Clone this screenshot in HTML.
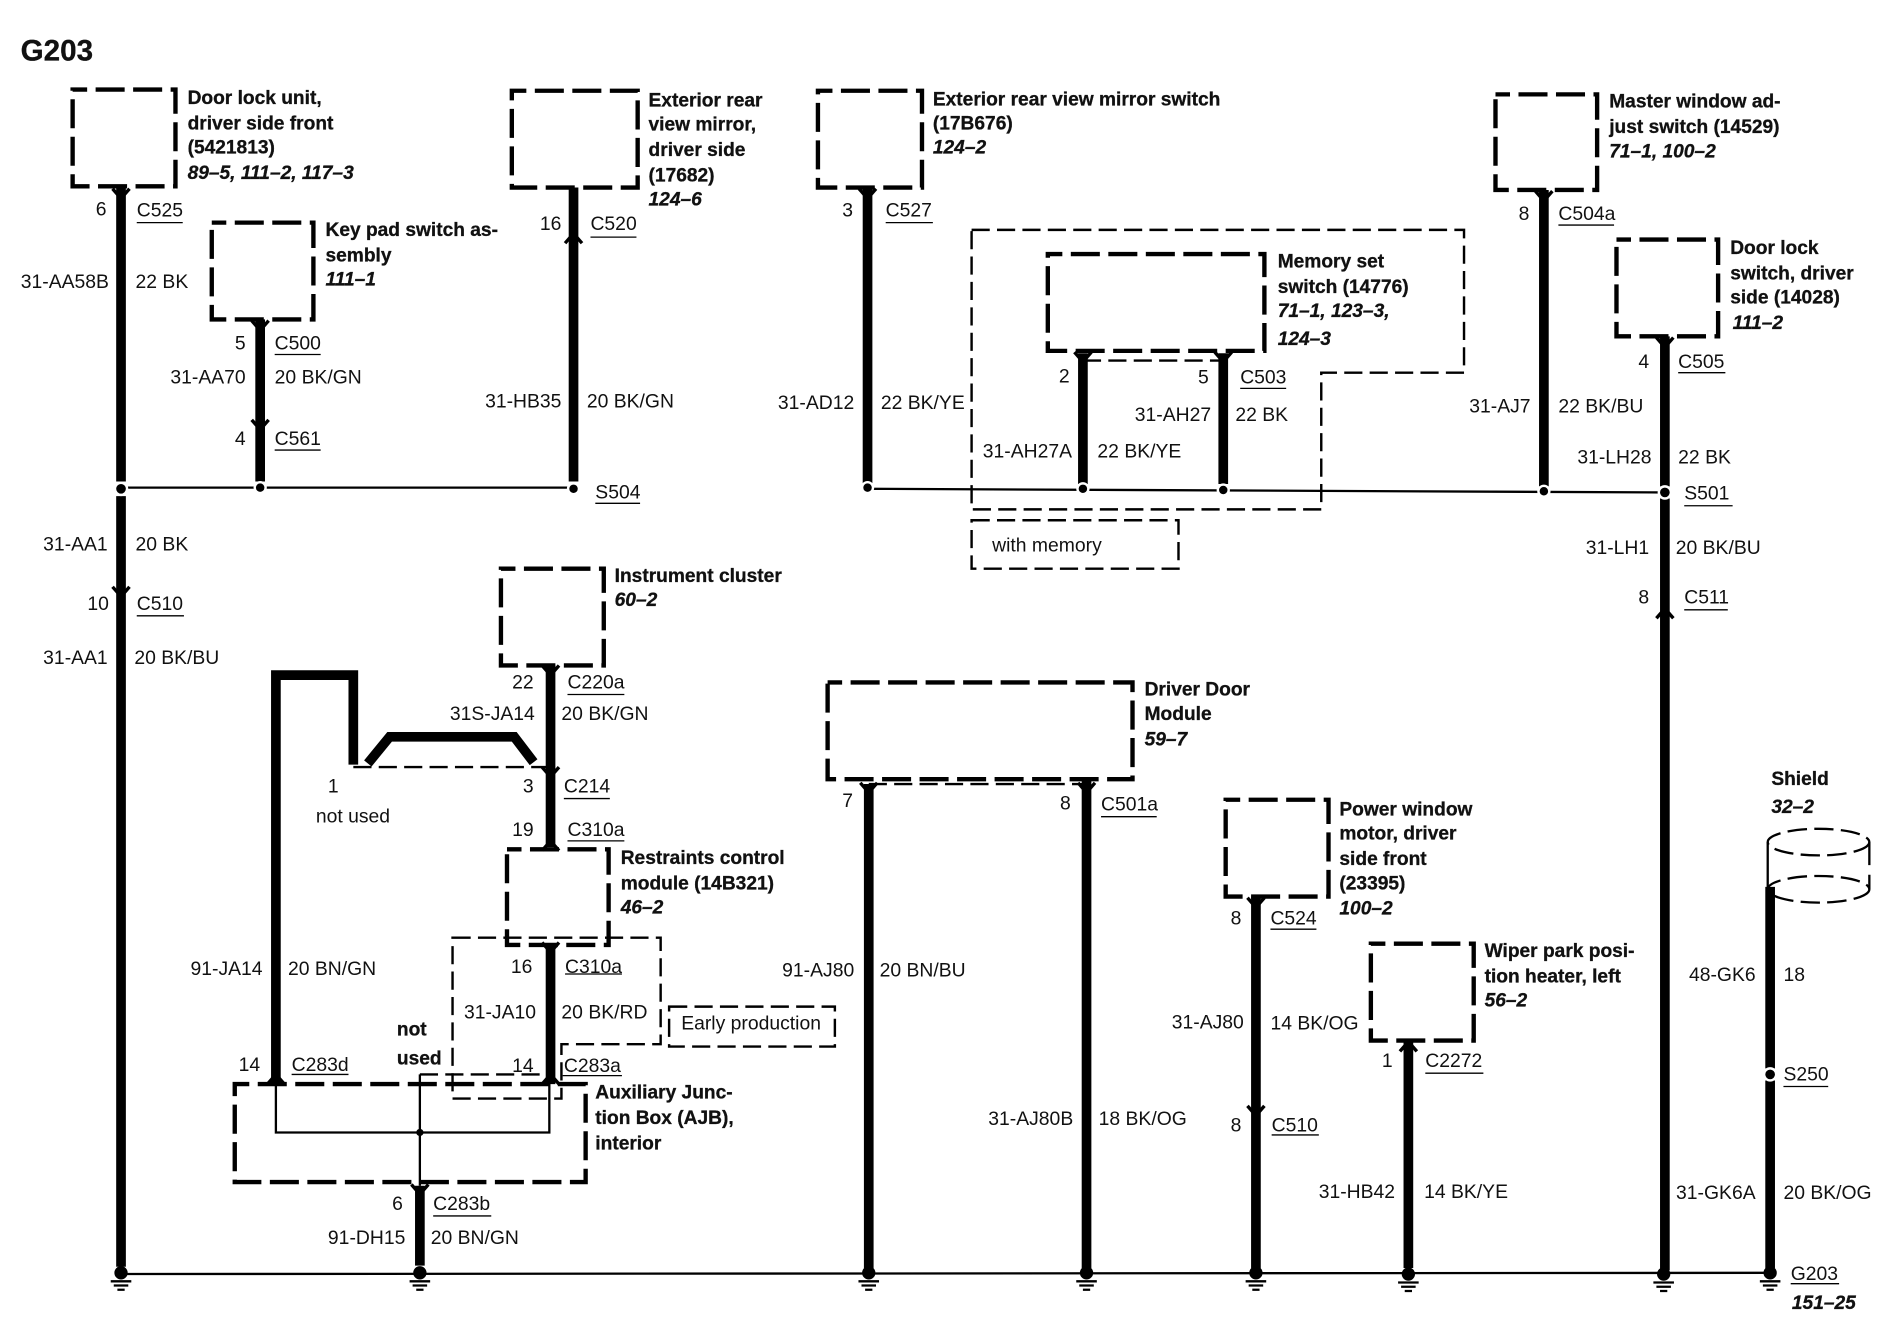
<!DOCTYPE html>
<html><head><meta charset="utf-8"><style>
html,body{margin:0;padding:0;background:#fff}
svg{display:block}
text{font-family:"Liberation Sans",sans-serif;font-size:16px;fill:#111}
.b{font-weight:bold;font-size:15.85px;stroke:#111;stroke-width:.25px}
.i{font-weight:bold;font-style:italic;font-size:15.85px;stroke:#111;stroke-width:.25px}
.e{text-anchor:end}
.box{fill:none;stroke:#000;stroke-width:3.6;stroke-dasharray:24 7;stroke-dashoffset:12}
.thin{fill:none;stroke:#000;stroke-width:2;stroke-dasharray:15 6}
.w{fill:none;stroke:#000;stroke-width:8}
.l{fill:none;stroke:#000;stroke-width:1.9}
.u{fill:none;stroke:#000;stroke-width:1.1}
.a{fill:none;stroke:#000;stroke-width:2.8}
.d{fill:#000;stroke:#fff;stroke-width:2}
</style></head><body>
<svg xmlns="http://www.w3.org/2000/svg" width="1896" height="1328" viewBox="0 0 1567 1097.6">
<defs>
<g id="gnd"><circle cx="0" cy="-1" r="5.5" fill="#000"/><path d="M-8.5 6H8.5M-6 9.5H6M-3 13H3" stroke="#000" stroke-width="1.9" fill="none"/></g>
<path id="dn" class="a" d="M-7 -5L0 3L7 -5"/>
<path id="up" class="a" d="M-7 5L0 -3L7 5"/>
</defs>
<rect width="1567" height="1098" fill="#fff"/>

<!-- thin lines -->
<path class="l" d="M100 403H475M717 404L1376 407"/>
<path class="l" d="M100 1053L1463 1052"/>
<path class="l" d="M228 895V936H454V895M347 888V980"/>
<circle cx="347" cy="936" r="3" fill="#000"/>

<!-- thin dashed regions -->
<path class="thin" d="M803 190H1210V308H1092V421H803Z"/>
<rect class="thin" x="803" y="430" width="171" height="40"/>
<rect class="thin" x="553" y="832" width="137" height="33"/>
<path class="thin" d="M374 775H546V863H464V908H374Z"/>
<path class="thin" d="M292 634H455M347 888H455M718 648H898M895 298H1011"/>

<!-- thick dashed boxes -->
<rect class="box" x="60" y="74" width="85" height="80"/>
<rect class="box" x="423" y="75" width="104" height="80"/>
<rect class="box" x="676" y="75" width="86" height="80"/>
<rect class="box" x="175" y="184" width="84" height="80"/>
<rect class="box" x="866" y="210" width="179" height="80"/>
<rect class="box" x="1236" y="78" width="84" height="79"/>
<rect class="box" x="1336" y="198" width="84" height="80"/>
<rect class="box" x="414" y="470" width="85" height="80"/>
<rect class="box" x="684" y="564" width="252" height="80"/>
<rect class="box" x="419" y="702" width="84" height="79"/>
<rect class="box" x="1013" y="661" width="85" height="80"/>
<rect class="box" x="1133" y="780" width="85" height="80"/>
<rect class="box" x="194" y="896" width="290" height="81"/>

<!-- shield -->
<g fill="none" stroke="#000" stroke-width="1.9" stroke-dasharray="16 6">
<ellipse cx="1503" cy="696" rx="42" ry="11"/>
<ellipse cx="1503" cy="735" rx="42" ry="11"/>
</g>
<path class="l" d="M1461 696V735M1545 696V715M1545 723V735"/>

<!-- thick wires -->
<path class="w" d="M100 155V398M100 410V1047"/>
<path class="w" d="M215 264V398"/>
<path class="w" d="M474 155V398"/>
<path class="w" d="M717 155V400"/>
<path class="w" d="M895 292V400M1011 292V400"/>
<path class="w" d="M1276 157V402"/>
<path class="w" d="M1376 278V402M1376 412V1050"/>
<path class="w" d="M455 550V700M455 782V896"/>
<path class="w" d="M228 895V558H292V632"/>
<path class="w" d="M304 631L322 609H425L441 630"/>
<path class="w" d="M718 648V1048M898 644V1048M1038 741V1048M1164 860V1048"/>
<path class="w" d="M1463 733V883M1463 893V1048"/>
<path class="w" d="M347 980V1046"/>

<!-- dots -->
<circle class="d" cx="100" cy="404" r="5"/><circle class="d" cx="215" cy="403" r="4.5"/><circle class="d" cx="474" cy="404" r="4.5"/>
<circle class="d" cx="717" cy="403" r="4.5"/><circle class="d" cx="895" cy="404" r="4.5"/><circle class="d" cx="1011" cy="405" r="4.5"/>
<circle class="d" cx="1276" cy="406" r="4.5"/><circle class="d" cx="1376" cy="407" r="5"/><circle class="d" cx="1463" cy="888" r="5"/>

<!-- grounds -->
<use href="#gnd" x="100" y="1053"/><use href="#gnd" x="347" y="1053"/><use href="#gnd" x="718" y="1053"/>
<use href="#gnd" x="898" y="1053"/><use href="#gnd" x="1038" y="1053"/><use href="#gnd" x="1164" y="1054"/>
<use href="#gnd" x="1375" y="1054"/><use href="#gnd" x="1463" y="1053"/>

<!-- arrows -->
<use href="#dn" x="100" y="161"/><use href="#dn" x="100" y="490"/><use href="#dn" x="215" y="270"/><use href="#dn" x="215" y="352"/>
<use href="#dn" x="717" y="161"/><use href="#dn" x="895" y="296"/><use href="#dn" x="1011" y="296"/><use href="#dn" x="1276" y="163"/>
<use href="#dn" x="1376" y="284"/><use href="#dn" x="455" y="555"/><use href="#dn" x="455" y="639"/><use href="#dn" x="718" y="652"/>
<use href="#dn" x="898" y="652"/><use href="#dn" x="1038" y="747"/><use href="#dn" x="1038" y="919"/><use href="#dn" x="347" y="984"/>
<use href="#dn" x="455" y="784"/>
<use href="#up" x="474" y="196"/><use href="#up" x="1376" y="506"/><use href="#up" x="1164" y="864"/><use href="#up" x="228" y="891"/>
<use href="#up" x="455" y="891"/><use href="#up" x="455" y="698"/>

<!-- connector underlines -->
<path class="u" d="M113 184H151M227 293H265M227 372H265M488 196H526M732 184H771M1288 186H1334M1387 308H1426M1025 321H1063M492 416H529M1392 418H1432M1392 504H1428M113 509H152M469 574H516M466 660H504M469 695H516M467 805H514M241 888H288M465 889H514M358 1005H406M910 675H956M1050 768H1088M1051 938H1090M1178 887H1226M1474 898H1511M1480 1061H1520"/>

<!-- title -->
<text x="17" y="50" style="font-size:24.5px" class="b">G203</text>

<!-- component labels -->
<text class="b" x="155" y="86">Door lock unit,</text><text class="b" x="155" y="107">driver side front</text><text class="b" x="155" y="127">(5421813)</text><text class="i" x="155" y="148">89–5, 111–2, 117–3</text>
<text class="b" x="536" y="88">Exterior rear</text><text class="b" x="536" y="108">view mirror,</text><text class="b" x="536" y="129">driver side</text><text class="b" x="536" y="150">(17682)</text><text class="i" x="536" y="170">124–6</text>
<text class="b" x="771" y="87">Exterior rear view mirror switch</text><text class="b" x="771" y="107">(17B676)</text><text class="i" x="771" y="127">124–2</text>
<text class="b" x="269" y="195">Key pad switch as-</text><text class="b" x="269" y="216">sembly</text><text class="i" x="269" y="236">111–1</text>
<text class="b" x="1056" y="221">Memory set</text><text class="b" x="1056" y="242">switch (14776)</text><text class="i" x="1056" y="262">71–1, 123–3,</text><text class="i" x="1056" y="285">124–3</text>
<text class="b" x="1330" y="89">Master window ad-</text><text class="b" x="1330" y="110">just switch (14529)</text><text class="i" x="1330" y="130">71–1, 100–2</text>
<text class="b" x="1430" y="210">Door lock</text><text class="b" x="1430" y="231">switch, driver</text><text class="b" x="1430" y="251">side (14028)</text><text class="i" x="1432" y="272">111–2</text>
<text class="b" x="508" y="481">Instrument cluster</text><text class="i" x="508" y="501">60–2</text>
<text class="b" x="946" y="575">Driver Door</text><text class="b" x="946" y="595">Module</text><text class="i" x="946" y="616">59–7</text>
<text class="b" x="513" y="714">Restraints control</text><text class="b" x="513" y="735">module (14B321)</text><text class="i" x="513" y="755">46–2</text>
<text class="b" x="1107" y="674">Power window</text><text class="b" x="1107" y="694">motor, driver</text><text class="b" x="1107" y="715">side front</text><text class="b" x="1107" y="735">(23395)</text><text class="i" x="1107" y="756">100–2</text>
<text class="b" x="1227" y="791">Wiper park posi-</text><text class="b" x="1227" y="812">tion heater, left</text><text class="i" x="1227" y="832">56–2</text>
<text class="b" x="492" y="908">Auxiliary Junc-</text><text class="b" x="492" y="929">tion Box (AJB),</text><text class="b" x="492" y="950">interior</text>
<text class="b" x="1464" y="649">Shield</text><text class="i" x="1464" y="672">32–2</text>
<text class="b" x="328" y="856">not</text><text class="b" x="328" y="880">used</text>

<!-- wire labels -->
<text class="e" x="88" y="178">6</text><text x="113" y="179">C525</text>
<text class="e" x="90" y="238">31-AA58B</text><text x="112" y="238">22 BK</text>
<text class="e" x="203" y="289">5</text><text x="227" y="289">C500</text>
<text class="e" x="203" y="317">31-AA70</text><text x="227" y="317">20 BK/GN</text>
<text class="e" x="203" y="368">4</text><text x="227" y="368">C561</text>
<text class="e" x="464" y="190">16</text><text x="488" y="190">C520</text>
<text class="e" x="464" y="337">31-HB35</text><text x="485" y="337">20 BK/GN</text>
<text x="492" y="412">S504</text>
<text class="e" x="705" y="179">3</text><text x="732" y="179">C527</text>
<text class="e" x="706" y="338">31-AD12</text><text x="728" y="338">22 BK/YE</text>
<text class="e" x="884" y="316">2</text><text class="e" x="999" y="317">5</text><text x="1025" y="317">C503</text>
<text class="e" x="1001" y="348">31-AH27</text><text x="1021" y="348">22 BK</text>
<text class="e" x="886" y="378">31-AH27A</text><text x="907" y="378">22 BK/YE</text>
<text x="820" y="456">with memory</text>
<text class="e" x="1264" y="182">8</text><text x="1288" y="182">C504a</text>
<text class="e" x="1265" y="341">31-AJ7</text><text x="1288" y="341">22 BK/BU</text>
<text class="e" x="1363" y="304">4</text><text x="1387" y="304">C505</text>
<text class="e" x="1365" y="383">31-LH28</text><text x="1387" y="383">22 BK</text>
<text x="1392" y="413">S501</text>
<text class="e" x="1363" y="458">31-LH1</text><text x="1385" y="458">20 BK/BU</text>
<text class="e" x="1363" y="499">8</text><text x="1392" y="499">C511</text>
<text class="e" x="89" y="455">31-AA1</text><text x="112" y="455">20 BK</text>
<text class="e" x="90" y="504">10</text><text x="113" y="504">C510</text>
<text class="e" x="89" y="549">31-AA1</text><text x="111" y="549">20 BK/BU</text>
<text class="e" x="441" y="569">22</text><text x="469" y="569">C220a</text>
<text class="e" x="442" y="595">31S-JA14</text><text x="464" y="595">20 BK/GN</text>
<text x="271" y="655">1</text><text class="e" x="441" y="655">3</text><text x="466" y="655">C214</text>
<text x="261" y="680">not used</text>
<text class="e" x="441" y="691">19</text><text x="469" y="691">C310a</text>
<text class="e" x="440" y="804">16</text><text x="467" y="804">C310a</text>
<text class="e" x="217" y="806">91-JA14</text><text x="238" y="806">20 BN/GN</text>
<text class="e" x="443" y="842">31-JA10</text><text x="464" y="842">20 BK/RD</text>
<text x="563" y="851">Early production</text>
<text class="e" x="215" y="885">14</text><text x="241" y="885">C283d</text>
<text class="e" x="441" y="886">14</text><text x="466" y="886">C283a</text>
<text class="e" x="333" y="1000">6</text><text x="358" y="1000">C283b</text>
<text class="e" x="335" y="1028">91-DH15</text><text x="356" y="1028">20 BN/GN</text>
<text class="e" x="705" y="667">7</text><text class="e" x="885" y="669">8</text><text x="910" y="670">C501a</text>
<text class="e" x="706" y="807">91-AJ80</text><text x="727" y="807">20 BN/BU</text>
<text class="e" x="887" y="930">31-AJ80B</text><text x="908" y="930">18 BK/OG</text>
<text class="e" x="1026" y="764">8</text><text x="1050" y="764">C524</text>
<text class="e" x="1028" y="850">31-AJ80</text><text x="1050" y="851">14 BK/OG</text>
<text class="e" x="1026" y="935">8</text><text x="1051" y="935">C510</text>
<text class="e" x="1151" y="882">1</text><text x="1178" y="882">C2272</text>
<text class="e" x="1153" y="990">31-HB42</text><text x="1177" y="990">14 BK/YE</text>
<text class="e" x="1451" y="811">48-GK6</text><text x="1474" y="811">18</text>
<text x="1474" y="893">S250</text>
<text class="e" x="1451" y="991">31-GK6A</text><text x="1474" y="991">20 BK/OG</text>
<text x="1480" y="1058">G203</text><text class="i" x="1481" y="1082">151–25</text>
</svg>
</body></html>
